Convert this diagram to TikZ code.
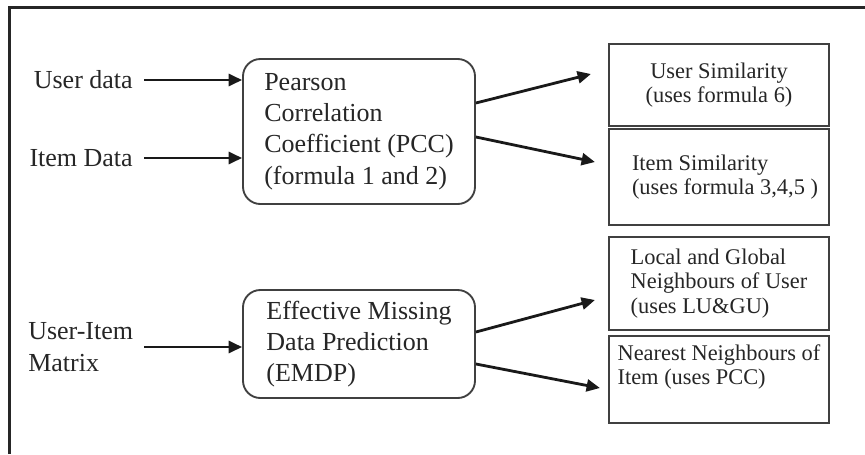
\documentclass[tikz,border=0pt]{standalone}
\usepackage{fontspec}
\setmainfont{Liberation Serif}
\usetikzlibrary{arrows.meta,calc}

\begin{document}
\begin{tikzpicture}[x=0.75pt,y=0.75pt,yscale=-1,xscale=1,
	bigtext/.style={font=\fontsize{19.5}{23.5}\selectfont,text=black!85},
	smalltext/.style={font=\fontsize{16.8}{18.5}\selectfont,text=black!85},
	procbox/.style={draw=black!75,line width=1.4pt,rounded corners=13pt,fill=white,bigtext,align=left,minimum width=174pt},
	outbox/.style={draw=black!75,line width=1.6pt,fill=white,smalltext,minimum width=165pt},
	arr/.style={line width=2.1pt,black!90,-{Triangle[length=10pt,width=9pt]}}]
	%set diagram size to 865 x 454
	\useasboundingbox (0,0) rectangle (865,454);
	
	%Straight Lines [frame, top and left side]
	\draw [line width=1.7pt,black!85]  (9.5,454) -- (9.5,7.5) -- (865,7.5) ;
	
	%Shape: Rounded Rect [PCC]
	\node [procbox,minimum height=108.75pt] (pcc) at (359,131.5) {Pearson\\Correlation\\Coefficient (PCC)\\(formula 1 and 2)};
	%Shape: Rounded Rect [EMDP]
	\node [procbox,minimum height=81pt] (emdp) at (359,344) {Effective Missing\\Data Prediction\\(EMDP)};
	
	%Shape: Rectangle [outputs]
	\node [outbox,align=center,minimum height=61.5pt] (usersim) at (719,85) {User Similarity\\(uses formula 6)};
	\node [outbox,align=left,minimum height=72pt] (itemsim) at (719,177) {\hspace*{9pt}Item Similarity\\\hspace*{9pt}(uses formula 3,4,5 )};
	\node [outbox,align=left,minimum height=69.75pt] (localnb) at (719,283.5) {Local and Global\\Neighbours of User\\(uses LU\&GU)};
	\node [outbox,align=left,minimum height=65.25pt] (nearestnb) at (719,379.5) {Nearest Neighbours of\\Item (uses PCC)\\[4pt]};
	
	% Text Node
	\node [bigtext,anchor=east,inner sep=0.75pt] (userdata) at (134,80) {User data};
	% Text Node
	\node [bigtext,anchor=east,inner sep=0.75pt] (itemdata) at (134,158) {Item Data};
	% Text Node
	\node [bigtext,anchor=west,align=left,inner sep=0.75pt] (uimatrix) at (27,347) {User-Item\\Matrix};
	
	%Straight Lines [inputs]
	\draw [arr,shorten <=7.5pt]  (userdata.east) -- (userdata.east -| pcc.west) ;
	\draw [arr,shorten <=7.5pt]  (itemdata.east) -- (itemdata.east -| pcc.west) ;
	\draw [arr,shorten <=7.5pt]  (uimatrix.east) -- (uimatrix.east -| emdp.west) ;
	
	%Straight Lines [outputs]
	\draw [arr]  ($(pcc.east)+(0,-28.5)$) -- ($(usersim.west)+(-17,-11)$) ;
	\draw [arr]  ($(pcc.east)+(0,5.5)$) -- ($(itemsim.west)+(-13,-15)$) ;
	\draw [arr]  ($(emdp.east)+(0,-12)$) -- ($(localnb.west)+(-13,16.5)$) ;
	\draw [arr]  ($(emdp.east)+(0,20)$) -- ($(nearestnb.west)+(-8,8.5)$) ;
	
\end{tikzpicture}
\end{document}
